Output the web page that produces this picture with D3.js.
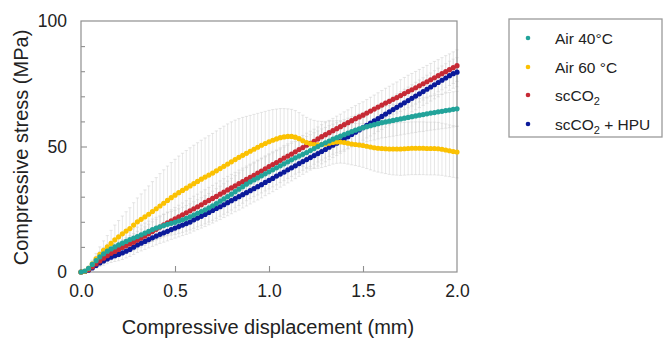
<!DOCTYPE html>
<html>
<head>
<meta charset="utf-8">
<script src="https://cdn.jsdelivr.net/npm/d3@7"></script>
<style>
  body { margin: 0; background: #fff; }
  svg text { font-family: "Liberation Sans", Arial, sans-serif; fill: #222; }
</style>
</head>
<body>
<svg id="chart" width="665" height="339"></svg>
<script>
// -------------------- DATA -------------------- //
// displacement (mm), one reading every 0.02 mm
const displacement = d3.range(101).map(i => +(i * 0.02).toFixed(2));

const seriesNames = ["Air 40°C", "Air 60 °C", "scCO2", "scCO2 + HPU"];

// mean compressive stress (MPa)
const air40 = [
  0, 0.4, 1.5, 3.0, 4.5, 6.0, 7.2, 8.3, 9.2, 10.0,
  10.8, 11.5, 12.2, 12.9, 13.5, 14.1, 14.8, 15.5, 16.2, 16.9,
  17.5, 18.0, 18.5, 19.0, 19.4, 19.8, 20.3, 20.8, 21.4, 22.0,
  22.7, 23.4, 24.1, 24.8, 25.6, 26.4, 27.3, 28.2, 29.1, 30.0,
  31.0, 32.0, 33.0, 34.0, 35.0, 35.9, 36.7, 37.5, 38.3, 39.1,
  39.9, 40.7, 41.5, 42.3, 43.1, 43.9, 44.7, 45.5, 46.2, 46.9,
  47.6, 48.4, 49.2, 50.0, 50.8, 51.5, 52.2, 52.9, 53.5, 54.1,
  54.7, 55.3, 55.9, 56.5, 57.0, 57.5, 57.9, 58.3, 58.7, 59.1,
  59.5, 59.8, 60.1, 60.4, 60.7, 61.0, 61.3, 61.6, 61.9, 62.2,
  62.5, 62.7, 63.0, 63.3, 63.5, 63.8, 64.0, 64.3, 64.5, 64.8,
  65.0
];
const air60 = [
  0, 0.3, 1.5, 3.2, 5.2, 7.0, 8.6, 10.0, 11.4, 12.8,
  14.0, 15.2, 16.3, 17.3, 18.7, 20.0, 21.0, 22.0, 23.0, 24.1,
  25.2, 26.3, 27.4, 28.5, 29.6, 30.6, 31.6, 32.5, 33.4, 34.3,
  35.2, 36.1, 37.0, 37.8, 38.6, 39.4, 40.3, 41.2, 42.1, 43.0,
  43.9, 44.8, 45.7, 46.5, 47.3, 48.1, 48.9, 49.7, 50.5, 51.2,
  51.9, 52.5, 53.0, 53.5, 53.8, 54.0, 54.0, 53.7, 53.1, 52.3,
  51.6, 51.1, 50.8, 50.7, 50.8, 51.0, 51.3, 51.6, 51.8, 51.8,
  51.6, 51.3, 51.0, 50.8, 50.6, 50.4, 50.1, 49.8, 49.5, 49.3,
  49.2, 49.1, 49.0, 49.0, 49.0, 49.0, 49.1, 49.2, 49.3, 49.3,
  49.3, 49.3, 49.2, 49.2, 49.2, 49.1, 48.9, 48.6, 48.3, 48.0,
  47.8
];
const scco2 = [
  0, 0.2, 0.9, 2.0, 3.2, 4.4, 5.5, 6.5, 7.4, 8.2,
  9.0, 9.8, 10.5, 11.2, 11.9, 12.7, 13.5, 14.3, 15.2, 16.1,
  17.0, 17.9, 18.8, 19.6, 20.4, 21.2, 22.0, 22.8, 23.6, 24.4,
  25.2, 26.0, 26.8, 27.7, 28.5, 29.3, 30.1, 31.0, 31.8, 32.7,
  33.5, 34.3, 35.2, 36.0, 36.9, 37.7, 38.5, 39.4, 40.2, 41.1,
  42.0, 42.8, 43.6, 44.5, 45.4, 46.2, 47.0, 47.9, 48.8, 49.6,
  50.5, 51.3, 52.1, 53.0, 53.9, 54.7, 55.5, 56.3, 57.1, 57.9,
  58.7, 59.5, 60.3, 61.1, 61.8, 62.5, 63.3, 64.1, 64.9, 65.7,
  66.5, 67.3, 68.0, 68.8, 69.5, 70.3, 71.1, 71.9, 72.6, 73.4,
  74.2, 75.0, 75.8, 76.6, 77.4, 78.2, 79.0, 79.8, 80.6, 81.4,
  82.2
];
const scco2Hpu = [
  0, 0.2, 0.7, 1.6, 2.6, 3.6, 4.4, 5.2, 5.9, 6.5,
  7.0, 7.6, 8.3, 9.0, 9.9, 10.8, 11.5, 12.2, 12.9, 13.6,
  14.3, 15.0, 15.6, 16.2, 16.9, 17.5, 18.1, 18.7, 19.3, 19.9,
  20.8, 21.5, 22.2, 22.9, 23.7, 24.5, 25.3, 26.0, 26.8, 27.6,
  28.4, 29.2, 30.0, 30.8, 31.6, 32.4, 33.2, 34.0, 34.8, 35.7,
  36.5, 37.3, 38.2, 39.0, 39.8, 40.7, 41.5, 42.3, 43.2, 44.0,
  44.8, 45.6, 46.4, 47.2, 48.0, 48.8, 49.7, 50.5, 51.3, 52.2,
  53.0, 53.9, 54.8, 55.7, 56.6, 57.5, 58.4, 59.3, 60.2, 61.1,
  62.0, 62.9, 63.8, 64.7, 65.6, 66.5, 67.4, 68.3, 69.2, 70.1,
  71.0, 71.9, 72.8, 73.7, 74.6, 75.5, 76.4, 77.3, 78.2, 79.0,
  79.6
];

// standard deviation (MPa)
const air40Sd = [
  0, 0.3, 0.7, 1.2, 1.7, 2.1, 2.5, 2.8, 3.0, 3.2,
  3.3, 3.4, 3.5, 3.6, 3.7, 3.8, 3.9, 4.0, 4.1, 4.2,
  4.3, 4.4, 4.5, 4.6, 4.7, 4.8, 4.9, 5.0, 5.1, 5.2,
  5.3, 5.4, 5.5, 5.6, 5.7, 5.8, 5.9, 6.0, 6.1, 6.2,
  6.3, 6.4, 6.5, 6.6, 6.6, 6.7, 6.7, 6.8, 6.8, 6.8,
  6.8, 6.8, 6.8, 6.7, 6.7, 6.6, 6.6, 6.5, 6.5, 6.4,
  6.4, 6.3, 6.3, 6.2, 6.2, 6.1, 6.1, 6.0, 6.0, 6.0,
  6.0, 6.0, 6.0, 6.0, 6.0, 6.0, 6.0, 6.0, 6.1, 6.1,
  6.1, 6.2, 6.2, 6.3, 6.3, 6.4, 6.4, 6.5, 6.5, 6.6,
  6.6, 6.7, 6.7, 6.8, 6.8, 6.9, 6.9, 7.0, 7.0, 7.0,
  7.0
];
const air60Sd = [
  0, 0.3, 0.8, 1.5, 2.2, 3.0, 3.8, 4.5, 5.2, 5.9,
  6.5, 7.1, 7.7, 8.3, 8.9, 9.5, 10.1, 10.7, 11.3, 11.9,
  12.4, 12.9, 13.3, 13.7, 14.0, 14.3, 14.6, 14.8, 15.0, 15.2,
  15.3, 15.4, 15.5, 15.6, 15.7, 15.8, 15.9, 16.0, 16.0, 16.0,
  15.9, 15.7, 15.4, 15.1, 14.7, 14.3, 13.9, 13.5, 13.1, 12.8,
  12.5, 12.2, 11.9, 11.6, 11.3, 11.0, 10.8, 10.6, 10.4, 10.2,
  10.0, 9.8, 9.6, 9.4, 9.2, 9.0, 8.8, 8.6, 8.5, 8.4,
  8.3, 8.3, 8.3, 8.4, 8.5, 8.7, 8.9, 9.1, 9.3, 9.5,
  9.7, 9.9, 10.1, 10.3, 10.4, 10.5, 10.5, 10.5, 10.5, 10.5,
  10.5, 10.5, 10.5, 10.5, 10.5, 10.5, 10.4, 10.4, 10.3, 10.3,
  10.3
];
const scco2Sd = [
  0, 0.2, 0.5, 0.9, 1.3, 1.7, 2.0, 2.3, 2.6, 2.8,
  3.0, 3.1, 3.2, 3.3, 3.4, 3.5, 3.6, 3.7, 3.8, 3.9,
  4.0, 4.1, 4.2, 4.3, 4.4, 4.5, 4.6, 4.7, 4.8, 4.9,
  5.0, 5.0, 5.1, 5.1, 5.2, 5.2, 5.3, 5.3, 5.4, 5.4,
  5.4, 5.4, 5.4, 5.4, 5.3, 5.3, 5.3, 5.2, 5.2, 5.2,
  5.1, 5.1, 5.0, 5.0, 5.0, 4.9, 4.9, 4.9, 4.8, 4.8,
  4.8, 4.8, 4.8, 4.8, 4.8, 4.8, 4.9, 4.9, 5.0, 5.0,
  5.1, 5.1, 5.2, 5.2, 5.3, 5.3, 5.4, 5.5, 5.6, 5.7,
  5.8, 5.9, 6.0, 6.1, 6.2, 6.3, 6.4, 6.5, 6.5, 6.5,
  6.5, 6.5, 6.5, 6.5, 6.5, 6.4, 6.4, 6.4, 6.3, 6.3,
  6.3
];
const scco2HpuSd = [
  0, 0.2, 0.5, 0.8, 1.1, 1.4, 1.7, 1.9, 2.1, 2.3,
  2.5, 2.6, 2.7, 2.8, 2.9, 3.0, 3.1, 3.2, 3.3, 3.4,
  3.5, 3.6, 3.7, 3.8, 3.9, 4.0, 4.1, 4.2, 4.3, 4.4,
  4.5, 4.6, 4.7, 4.8, 4.9, 5.0, 5.0, 5.1, 5.1, 5.2,
  5.2, 5.2, 5.3, 5.3, 5.3, 5.3, 5.3, 5.3, 5.3, 5.3,
  5.3, 5.3, 5.3, 5.2, 5.2, 5.2, 5.2, 5.1, 5.1, 5.1,
  5.0, 5.0, 5.0, 5.0, 4.9, 4.9, 4.9, 4.9, 4.9, 4.9,
  4.9, 4.9, 4.9, 5.0, 5.0, 5.0, 5.0, 5.1, 5.1, 5.1,
  5.2, 5.2, 5.2, 5.3, 5.3, 5.3, 5.4, 5.4, 5.4, 5.5,
  5.5, 5.5, 5.6, 5.6, 5.6, 5.7, 5.7, 5.7, 5.8, 5.8,
  5.8
];

const xTicks = [0, 0.5, 1.0, 1.5, 2.0];
const yTicks = [0, 50, 100];
const yMinorTicks = [10, 20, 30, 40, 60, 70, 80, 90];

// -------------------- SETUP -------------------- //
const colors = ["#22a39a", "#fbc102", "#c62a35", "#0b1a9a"];
const means = [air40, air60, scco2, scco2Hpu];
const sds = [air40Sd, air60Sd, scco2Sd, scco2HpuSd];

const series = seriesNames.map((name, k) => ({
  name: name,
  color: colors[k],
  points: displacement.map((d, i) => ({ x: d, y: means[k][i], sd: sds[k][i] }))
}));

let svg = d3.select("#chart");

const plot = { left: 81, right: 457, top: 21, bottom: 272 };
const x = d3.scaleLinear().domain([0, 2]).range([plot.left, plot.right]);
const y = d3.scaleLinear().domain([0, 100]).range([plot.bottom, plot.top]);

const axisColor = "#8f8f8f";
const barColor = "#cfcfcf";

// -------------------- ERROR BARS -------------------- //
let errG = svg.append("g").attr("class", "errorbars");
series.forEach(s => {
  let g = errG.append("g");
  g.selectAll("line.bar").data(s.points.slice(1)).join("line")
    .attr("class", "bar")
    .attr("x1", d => x(d.x)).attr("x2", d => x(d.x))
    .attr("y1", d => y(d.y - d.sd)).attr("y2", d => y(d.y + d.sd))
    .attr("stroke", barColor).attr("stroke-width", 0.7).attr("stroke-opacity", 0.75);
  ["lo", "hi"].forEach(side => {
    g.selectAll("line.cap-" + side).data(s.points.slice(1)).join("line")
      .attr("class", "cap-" + side)
      .attr("x1", d => x(d.x) - 1.6).attr("x2", d => x(d.x) + 1.6)
      .attr("y1", d => y(side == "lo" ? d.y - d.sd : d.y + d.sd))
      .attr("y2", d => y(side == "lo" ? d.y - d.sd : d.y + d.sd))
      .attr("stroke", barColor).attr("stroke-width", 0.7).attr("stroke-opacity", 0.75);
  });
});

// -------------------- AXES -------------------- //
// frame
svg.append("rect")
  .attr("x", plot.left).attr("y", plot.top)
  .attr("width", plot.right - plot.left).attr("height", plot.bottom - plot.top)
  .attr("fill", "none").attr("stroke", axisColor).attr("stroke-width", 1.2);

let yAxis = svg.append("g")
  .attr("transform", `translate(${plot.left},0)`)
  .call(d3.axisLeft(y).tickValues(yTicks).tickSize(-6).tickPadding(14).tickFormat(d3.format("d")));
let yMinor = svg.append("g")
  .attr("transform", `translate(${plot.left},0)`)
  .call(d3.axisLeft(y).tickValues(yMinorTicks).tickSize(-4).tickFormat(""));
let xAxis = svg.append("g")
  .attr("transform", `translate(0,${plot.bottom})`)
  .call(d3.axisBottom(x).tickValues(xTicks).tickSize(-6).tickPadding(13).tickFormat(d3.format(".1f")));

[yAxis, yMinor, xAxis].forEach(a => {
  a.select(".domain").remove();
  a.selectAll(".tick line").attr("stroke", axisColor).attr("stroke-width", 1.1);
  a.selectAll("text").attr("font-size", 17.5).attr("fill", "#222")
    .attr("font-family", "Liberation Sans, Arial, sans-serif");
});
// no inner tick at the ends of the axes
xAxis.selectAll(".tick").filter(d => d == 0 || d == 2).select("line").remove();
yAxis.selectAll(".tick").filter(d => d == 0 || d == 100).select("line").remove();

svg.append("text")
  .attr("transform", `translate(28,${(plot.top + plot.bottom) / 2 + 1}) rotate(-90)`)
  .attr("text-anchor", "middle")
  .attr("font-size", 20)
  .text("Compressive stress (MPa)");

svg.append("text")
  .attr("x", 268).attr("y", 334)
  .attr("text-anchor", "middle")
  .attr("font-size", 20)
  .text("Compressive displacement (mm)");

// -------------------- SERIES (dots) -------------------- //
// draw order: HPU, scCO2, Air 60, Air 40 on top
[3, 2, 1, 0].forEach(k => {
  svg.append("g").selectAll("circle").data(series[k].points).join("circle")
    .attr("cx", d => x(d.x)).attr("cy", d => y(d.y))
    .attr("r", 2.6)
    .attr("fill", series[k].color);
});

// -------------------- LEGEND -------------------- //
let legend = svg.append("g");
legend.append("rect")
  .attr("x", 509).attr("y", 19).attr("width", 153).attr("height", 118)
  .attr("fill", "#fff").attr("stroke", "#9a9a9a").attr("stroke-width", 1.3);

const legendRows = [38, 67, 95, 124];
series.forEach((s, k) => {
  legend.append("circle")
    .attr("cx", 528).attr("cy", legendRows[k]).attr("r", 2.3)
    .attr("fill", s.color);
  let t = legend.append("text")
    .attr("x", 555).attr("y", legendRows[k] + 5.5)
    .attr("font-size", 15.5);
  if (s.name.startsWith("scCO2")) {
    t.append("tspan").text("scCO");
    t.append("tspan").attr("font-size", 11).attr("dy", 4).text("2");
    let rest = s.name.slice(5);
    if (rest.length) t.append("tspan").attr("dy", -4).text(rest);
  } else {
    t.text(s.name);
  }
});
</script>
</body>
</html>
